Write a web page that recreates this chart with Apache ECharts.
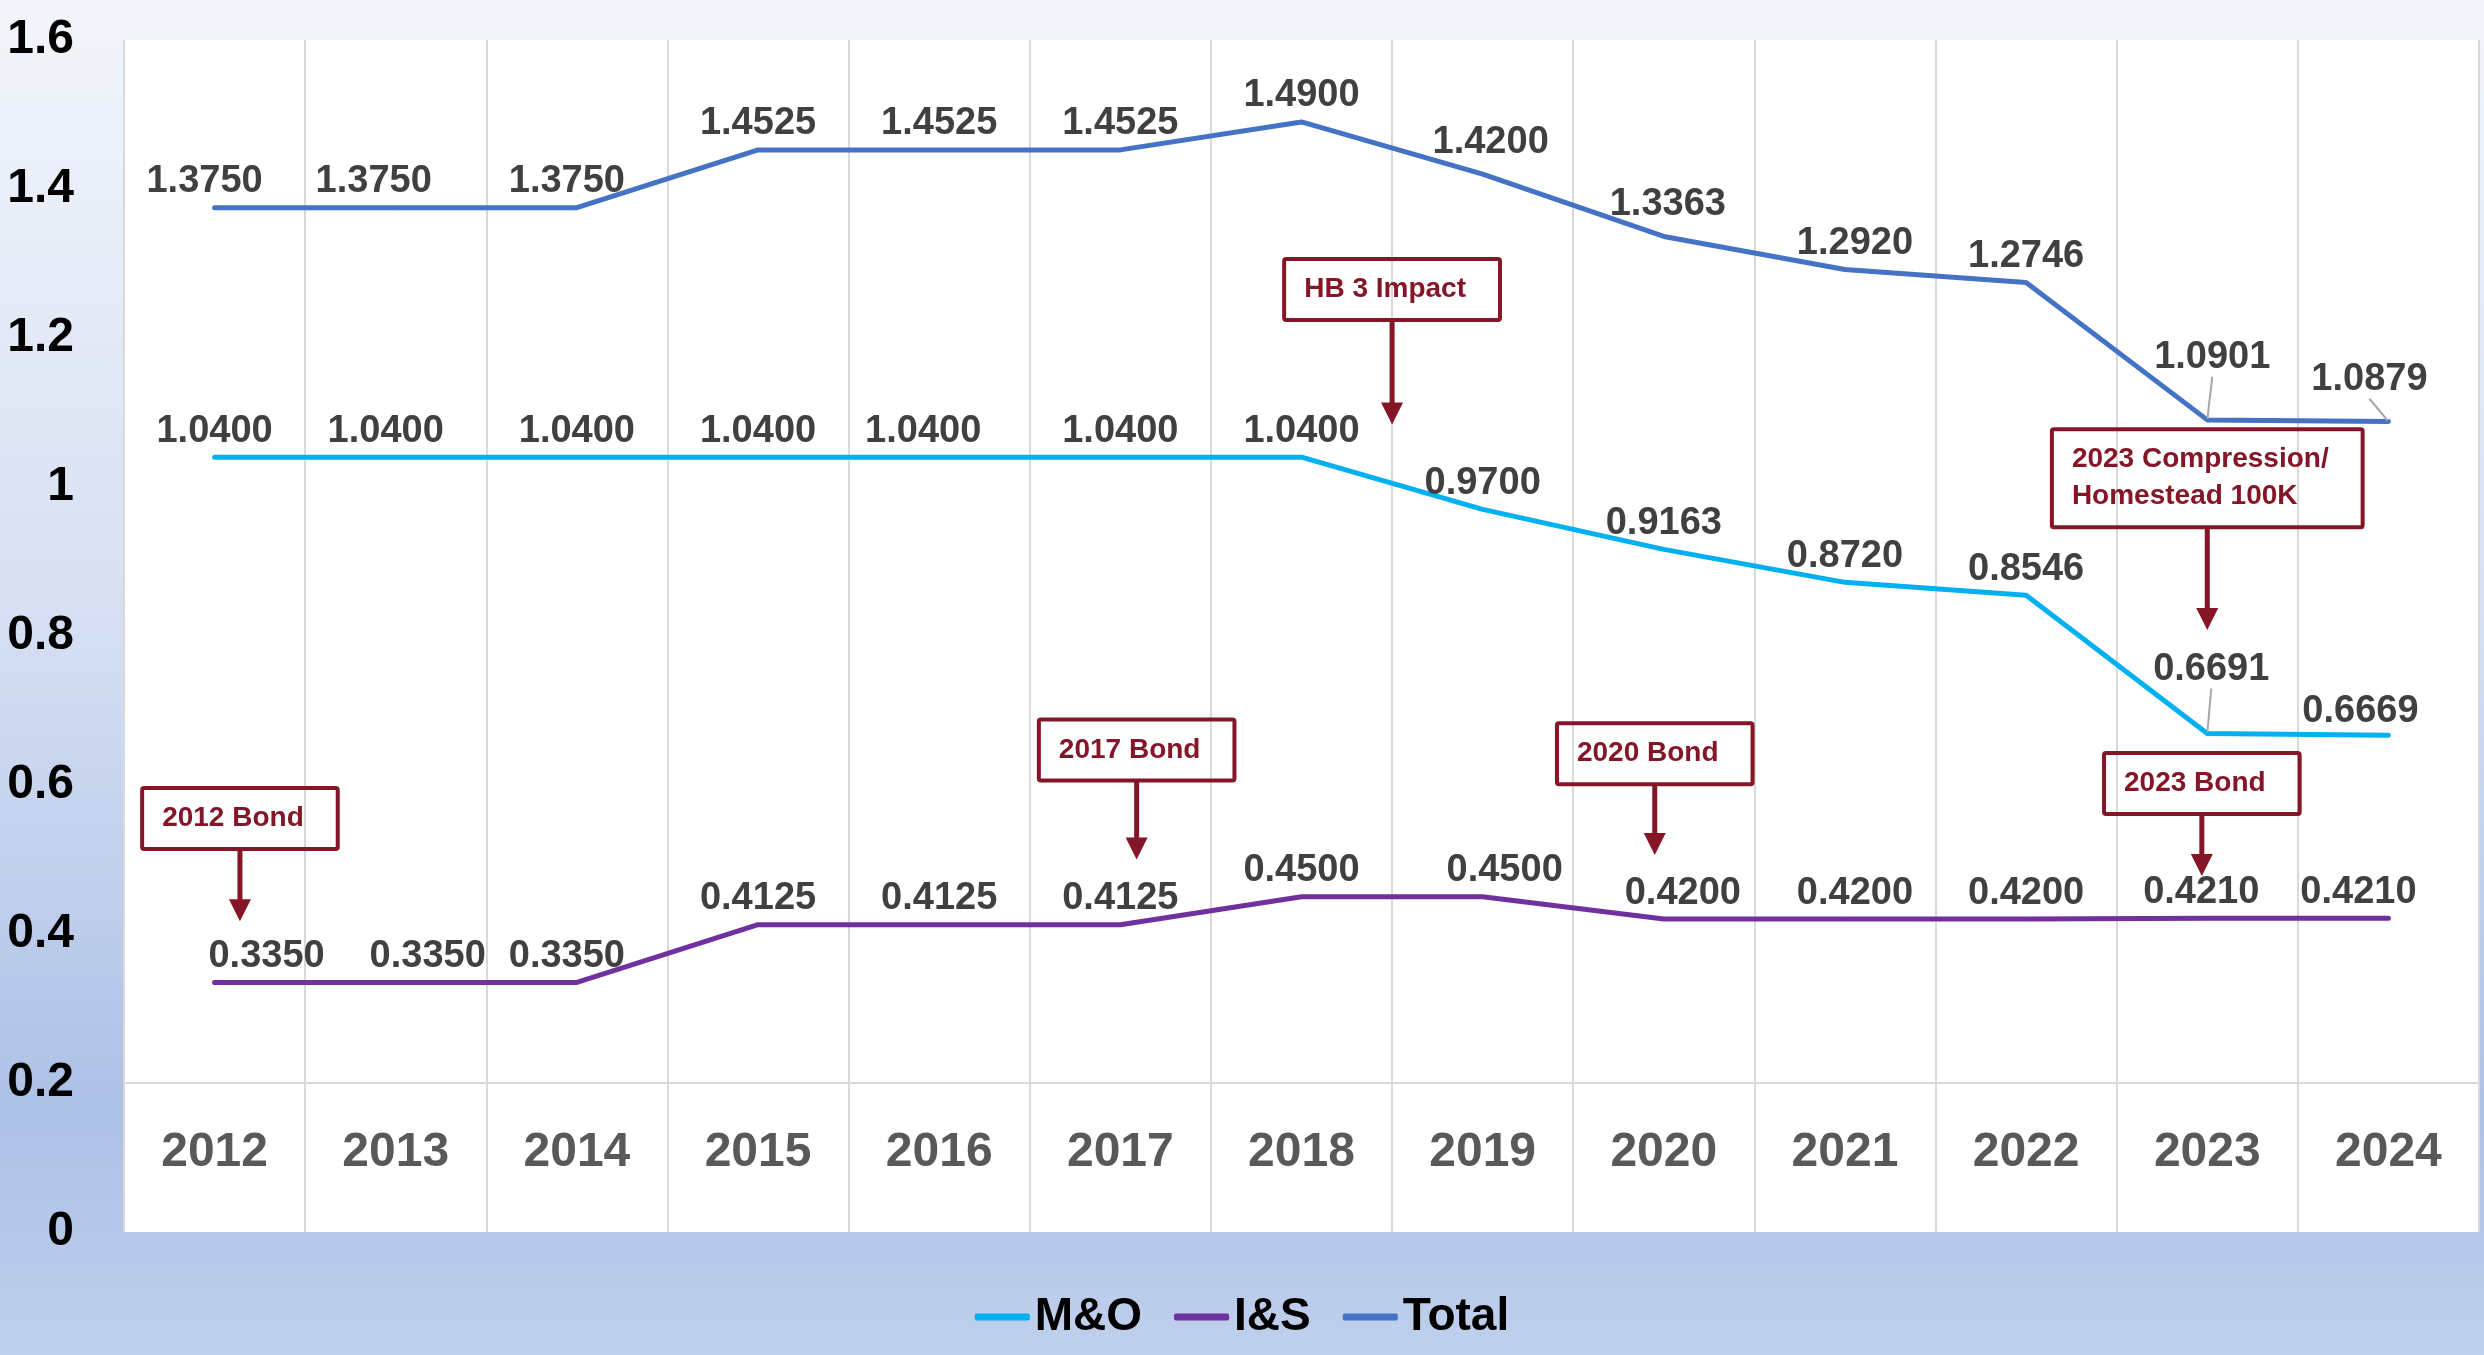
<!DOCTYPE html>
<html>
<head>
<meta charset="utf-8">
<script src="https://cdn.jsdelivr.net/npm/echarts@6/dist/echarts.min.js"></script>
<style>
  html, body { margin: 0; padding: 0; }
  #chart { width: 2484px; height: 1355px; }
</style>
</head>
<body>
<div id="chart"></div>
<script>
const years = ['2012', '2013', '2014', '2015', '2016', '2017', '2018', '2019', '2020', '2021', '2022', '2023', '2024']
const mo = [1.04, 1.04, 1.04, 1.04, 1.04, 1.04, 1.04, 0.97, 0.9163, 0.872, 0.8546, 0.6691, 0.6669]
const is = [0.335, 0.335, 0.335, 0.4125, 0.4125, 0.4125, 0.45, 0.45, 0.42, 0.42, 0.42, 0.421, 0.421]
const total = [1.375, 1.375, 1.375, 1.4525, 1.4525, 1.4525, 1.49, 1.42, 1.3363, 1.292, 1.2746, 1.0901, 1.0879]

// callouts: text, x position (category index), box bottom value, arrow tip value
const noteTexts = ['2012 Bond', '2017 Bond', 'HB 3 Impact', '2020 Bond', '2023 Compression/\nHomestead 100K', '2023 Bond']
const noteX = [0.14, 5.09, 6.5, 7.95, 11.0, 10.97]
const noteBottom = [0.514, 0.606, 1.224, 0.601, 0.946, 0.561]
const noteTip = [0.417, 0.50, 1.084, 0.506, 0.808, 0.478]

const FONT = '"Liberation Sans", Arial, sans-serif'
const RED = '#841628'

// label nudges in px (series order: M&O, I&S, Total), like the hand-placed labels
const labelShift = [
  { 1: [-10, 0], 4: [-16, 0], 11: [4, -38], 12: [-28, 2] },
  { 0: [52, 0], 1: [32, 0], 2: [-10, 0], 7: [22, 0], 8: [19, 0], 9: [10, 0], 11: [-6, 0], 12: [-30, 0] },
  { 0: [-10, 0], 1: [-22, 0], 2: [-10, 0], 7: [8, -6], 8: [4, -6], 9: [10, 0], 11: [5, -36], 12: [-19, -16] }
]
const leader = { 0: [11], 2: [11, 12] }

const measure = document.createElement('canvas').getContext('2d')
measure.font = 'bold 28px ' + FONT

const chart = echarts.init(document.getElementById('chart'))

const lineSeries = (name, idx, data, color) => ({
  name: name,
  type: 'line',
  data: data.map((v, i) => (leader[idx] || []).includes(i)
    ? { value: v, labelLine: { show: true, lineStyle: { color: '#a6a6a6', width: 2 } } }
    : v),
  symbol: 'circle',
  symbolSize: 2,
  lineStyle: { width: 5, color: color, cap: 'round', join: 'round' },
  itemStyle: { color: color },
  label: {
    show: true,
    position: 'top',
    distance: 6,
    color: '#404040',
    fontSize: 38,
    fontWeight: 'bold',
    fontFamily: FONT,
    formatter: p => p.value.toFixed(4)
  },
  labelLine: { show: false, length2: 0 },
  labelLayout: p => {
    const s = labelShift[p.seriesIndex][p.dataIndex]
    return s ? { dx: s[0], dy: s[1] } : {}
  },
  emphasis: { disabled: true },
  z: 3
})

const option = {
  animation: false,
  backgroundColor: new echarts.graphic.LinearGradient(0, 0, 0, 1, [
    { offset: 0, color: '#f2f5fb' },
    { offset: 0.45, color: '#d6e0f2' },
    { offset: 0.82, color: '#adc1e6' },
    { offset: 1, color: '#bfd0ec' }
  ]),
  textStyle: { fontFamily: FONT },
  grid: {
    left: 124,
    right: 5,
    top: 40,
    bottom: 123,
    show: true,
    backgroundColor: '#ffffff',
    borderWidth: 0
  },
  legend: {
    data: ['M&O', 'I&S', 'Total'],
    bottom: 10,
    left: 'center',
    icon: 'roundRect',
    itemWidth: 55,
    itemHeight: 7,
    itemGap: 32,
    textStyle: { fontSize: 46, fontWeight: 'bold', color: '#000', fontFamily: FONT }
  },
  xAxis: [
    {
      type: 'category',
      data: years,
      boundaryGap: true,
      axisLine: { show: false },
      axisTick: { show: false },
      splitLine: { show: true, lineStyle: { color: '#d9d9d9', width: 2 } },
      axisLabel: {
        inside: true,
        margin: 79,
        verticalAlign: 'middle',
        fontSize: 48,
        fontWeight: 'bold',
        color: '#595959',
        fontFamily: FONT
      }
    },
    {
      type: 'value',
      min: -0.5,
      max: 12.5,
      show: false
    }
  ],
  yAxis: {
    type: 'value',
    min: 0,
    max: 1.6,
    interval: 0.2,
    axisLine: { show: false },
    axisTick: { show: false },
    splitLine: { show: false },
    axisLabel: {
      margin: 50,
      fontSize: 48,
      fontWeight: 'bold',
      color: '#000',
      fontFamily: FONT
    }
  },
  series: [
    lineSeries('M&O', 0, mo, '#00b0f0'),
    Object.assign(lineSeries('I&S', 1, is, '#7030a0'), {
      markLine: {
        silent: true,
        symbol: ['none', 'none'],
        label: { show: false },
        lineStyle: { color: '#d9d9d9', width: 2, type: 'solid' },
        data: [{ yAxis: 0.2 }],
        z: 1
      }
    }),
    lineSeries('Total', 2, total, '#4472c4'),
    {
      type: 'custom',
      xAxisIndex: 1,
      yAxisIndex: 0,
      silent: true,
      z: 5,
      data: noteX.map((x, i) => [x, noteBottom[i], noteTip[i]]),
      renderItem: (params, api) => {
        const i = params.dataIndex
        const lines = noteTexts[i].split('\n')
        const textW = Math.max(...lines.map(l => measure.measureText(l).width))
        const lh = 37
        const padL = 20, padR = 34, padV = 12
        const w = textW + padL + padR
        const h = lines.length * lh + padV * 2
        const b = api.coord([api.value(0), api.value(1)])
        const t = api.coord([api.value(0), api.value(2)])
        const left = b[0] - w / 2
        const top = b[1] - h
        return {
          type: 'group',
          children: [
            {
              type: 'rect',
              shape: { x: left, y: top, width: w, height: h, r: 2 },
              style: { fill: 'none', stroke: RED, lineWidth: 4 }
            },
            {
              type: 'text',
              x: left + padL,
              y: top + padV,
              style: {
                text: noteTexts[i],
                fill: RED,
                font: 'bold 28px ' + FONT,
                lineHeight: lh,
                align: 'left',
                verticalAlign: 'top'
              }
            },
            {
              type: 'line',
              shape: { x1: b[0], y1: b[1], x2: t[0], y2: t[1] - 16 },
              style: { stroke: RED, lineWidth: 5 }
            },
            {
              type: 'polygon',
              shape: { points: [[t[0] - 11, t[1] - 22], [t[0] + 11, t[1] - 22], [t[0], t[1]]] },
              style: { fill: RED }
            }
          ]
        }
      }
    }
  ]
}

chart.setOption(option)
</script>
</body>
</html>
